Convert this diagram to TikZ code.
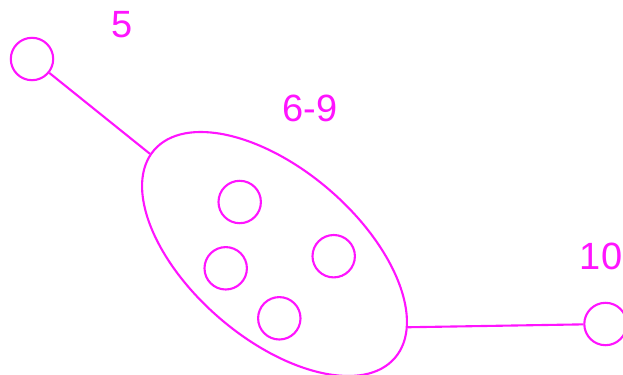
\documentclass[tikz,border=0pt]{standalone}
\usepackage{fontspec}
\setmainfont{Liberation Sans}
\usepackage{xcolor}
\definecolor{pinkline}{RGB}{255,20,255}
\usepackage{tikz}
\usetikzlibrary{shapes.geometric, positioning}

\begin{document}
\begin{tikzpicture}[
        x=0.025cm, y=-0.025cm,
        vertex/.style={circle, draw=pinkline, line width=1.5pt, minimum size=1.06cm, inner sep=0pt},
        group/.style={ellipse, draw=pinkline, line width=1.5pt, minimum width=7.95cm, minimum height=4.22cm, inner sep=0pt, rotate=-40.8},
        tag/.style={text=pinkline, font=\fontsize{27}{30}\selectfont, inner sep=0pt},
        link/.style={-, line width=1.5pt, pinkline}
    ]
        \useasboundingbox (0,0) rectangle (623,374);

        \node[vertex] (n5) at (32,59) {};
        \node[vertex] (n10) at (605.5,324) {};
        \node[group] (grp) at (274.5,254) {};

        \node[vertex] (n6) at (239.7,202) {};
        \node[vertex] (n7) at (225.7,268.3) {};
        \node[vertex] (n8) at (333.7,256.2) {};
        \node[vertex] (n9) at (279.3,318.3) {};

        \node[tag] (l5) at (122,24.5) {5};
        \node[tag] (l69) at (310,108) {6-9};
        \node[tag] (l10) at (601,256.5) {10};

        \draw[link] (n5) -- (grp);
        \draw[link] (grp.12) -- (n10);
    \end{tikzpicture}
\end{document}
